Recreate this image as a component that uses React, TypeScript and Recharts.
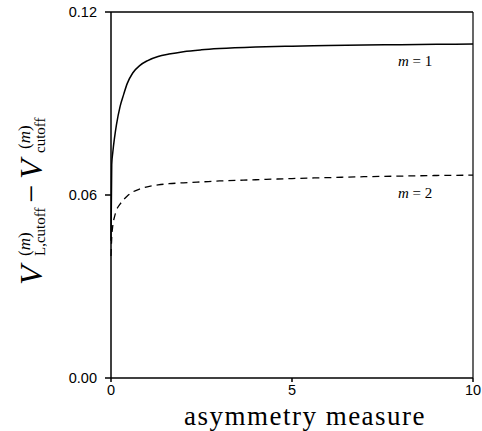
import React from "react";
import {
  LineChart,
  Line,
  XAxis,
  YAxis,
  ReferenceLine,
} from "recharts";

// asymmetry measure (x) and the two cutoff differences
const asym = [0, 0.02, 0.05, 0.1, 0.15, 0.25, 0.35, 0.45, 0.6, 0.8, 1.0, 1.3, 1.6, 2.0, 2.5, 3, 4, 5, 6, 7, 8, 9, 10];
const m1 = [0.045, 0.07, 0.074, 0.079, 0.083, 0.089, 0.093, 0.0966, 0.1, 0.1025, 0.104, 0.1054, 0.1062, 0.107, 0.1076, 0.108, 0.1085, 0.1088, 0.109, 0.1092, 0.1093, 0.1094, 0.1095];
const m2 = [0.04, 0.046, 0.05, 0.053, 0.055, 0.057, 0.0585, 0.0597, 0.061, 0.062, 0.0627, 0.0633, 0.0637, 0.064, 0.0643, 0.0646, 0.065, 0.0654, 0.0657, 0.066, 0.0662, 0.0664, 0.0665];

const xTicks = [0, 5, 10];
const yTicks = [0, 0.06, 0.12];

const data = asym.map((x, i) => ({ x, m1: m1[i], m2: m2[i] }));

const serif = "'Liberation Serif', 'Times New Roman', serif";
const sans = "'Liberation Sans', Arial, sans-serif";

const XLabel = () => (
  <text x={305} y={425} textAnchor="middle" fontFamily={serif} fontSize={27} letterSpacing={1.5} fill="#000">
    asymmetry measure
  </text>
);

const YLabel = () => (
  <g transform="translate(42, 285) rotate(-90)" fontFamily={serif} fill="#000">
    <text x={0} y={0} fontSize={32} fontStyle="italic">V</text>
    <text x={29} y={-12} fontSize={17}>
      (<tspan fontStyle="italic">m</tspan>)
    </text>
    <text x={29} y={3} fontSize={15}>L,cutoff</text>
    <text x={82} y={0} fontSize={32}>−</text>
    <text x={106} y={0} fontSize={32} fontStyle="italic">V</text>
    <text x={136} y={-12} fontSize={17}>
      (<tspan fontStyle="italic">m</tspan>)
    </text>
    <text x={132} y={3} fontSize={15}>cutoff</text>
  </g>
);

const CurveLabel = ({ x, y, n }: { x: number; y: number; n: number }) => (
  <text x={x} y={y} fontFamily={serif} fontSize={15} fill="#000">
    <tspan fontStyle="italic">m</tspan> = {n}
  </text>
);

export default function App() {
  return (
    <div style={{ position: "absolute", left: 0, top: 0 }}>
      <LineChart
        width={482}
        height={431}
        data={data}
        margin={{ top: 12, right: 9, left: 0, bottom: 0 }}
      >
        <XAxis
          dataKey="x"
          type="number"
          domain={[0, 10]}
          ticks={xTicks}
          height={53}
          stroke="#000"
          strokeWidth={1.5}
          tickSize={4}
          tickMargin={3}
          tick={{ fill: "#000", fontSize: 14.5, fontFamily: sans }}
          label={{ content: () => <XLabel /> }}
        />
        <YAxis
          type="number"
          domain={[0, 0.12]}
          ticks={yTicks}
          width={111}
          stroke="#000"
          strokeWidth={1.5}
          tickSize={6}
          tickMargin={8}
          tickFormatter={(v: number) => v.toFixed(2)}
          tick={{ fill: "#000", fontSize: 14.5, fontFamily: sans }}
          label={{ content: () => <YLabel /> }}
        />
        <ReferenceLine y={0.12} stroke="#000" strokeWidth={1.5} />
        <ReferenceLine x={10} stroke="#000" strokeWidth={1.2} />
        <ReferenceLine
          y={0.1095}
          stroke="none"
          label={{ content: () => <CurveLabel x={398} y={66} n={1} /> }}
        />
        <ReferenceLine
          y={0.0665}
          stroke="none"
          label={{ content: () => <CurveLabel x={398} y={198} n={2} /> }}
        />
        <Line
          type="monotone"
          dataKey="m1"
          stroke="#000"
          strokeWidth={1.5}
          dot={false}
          isAnimationActive={false}
        />
        <Line
          type="monotone"
          dataKey="m2"
          stroke="#000"
          strokeWidth={1.3}
          strokeDasharray="7 5"
          dot={false}
          isAnimationActive={false}
        />
      </LineChart>
    </div>
  );
}
